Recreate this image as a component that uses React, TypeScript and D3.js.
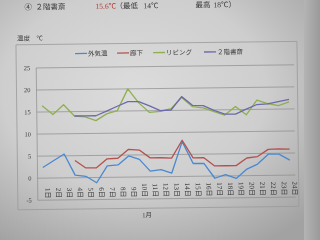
import React from "react";
import * as d3 from "d3";

// January daily temperatures (°C)
const days = [
  "1日", "2日", "3日", "4日", "5日", "6日", "7日", "8日", "9日", "10日", "11日", "12日",
  "13日", "14日", "15日", "16日", "17日", "18日", "19日", "20日", "21日", "22日", "23日", "24日",
];
const outdoor = [2.4, 3.9, 5.4, 0.6, 0.3, -1.2, 2.6, 2.8, 4.8, 4.0, 1.3, 1.6, 0.8, 7.9, 2.9, 2.9, -0.5, 0.3, -0.6, 1.5, 2.6, 4.8, 4.8, 3.4];
const hallway = [null, null, null, 3.9, 2.2, 2.2, 4.2, 4.3, 6.3, 6.1, 4.3, 4.3, 4.2, 8.2, 4.2, 4.2, 2.3, 2.3, 2.3, 4.0, 4.3, 5.9, 6.0, 5.9];
const living = [16.4, 14.4, 16.6, 14.0, 13.8, 12.9, 14.4, 15.1, 20.0, 16.8, 14.6, 14.8, 15.4, 17.9, 15.8, 15.5, 14.6, 13.8, 15.7, 13.8, 17.1, 16.3, 15.8, 16.6];
const study = [null, null, null, 14.0, 14.0, 14.0, 15.0, 16.1, 17.1, 17.1, 16.1, 15.0, 15.1, 18.1, 16.1, 16.0, 14.9, 14.0, 14.0, 15.1, 16.1, 16.2, 16.7, 17.2];
const yTicks = [-5, 0, 5, 10, 15, 20, 25];
const seriesNames = ["外気温", "廊下", "リビング", "２階書斎"];
const seriesColors = ["#4a88d0", "#b3524f", "#8fb050", "#6c6aaa"];

const serif = "'Liberation Serif', 'Noto Sans CJK JP', serif";

export default function App() {
  const x = d3.scalePoint<string>().domain(days).range([37, 294.8]).padding(0.5);
  const y = d3.scaleLinear().domain([-5, 25]).range([198.7, 66.4]);
  const line = d3
    .line<number | null>()
    .defined((d) => d != null)
    .x((_, i) => x(days[i]) as number)
    .y((d) => y(d as number));

  const data = [outdoor, hallway, living, study];
  const legendX = [76, 118, 154, 205];

  return (
    <div style={{ position: "fixed", left: 0, top: 0, width: 320, height: 240 }}>
      <svg width={320} height={240} style={{ display: "block" }}>
        <defs>
          <radialGradient id="paper" cx="42%" cy="38%" r="75%">
            <stop offset="0" stopColor="#dcdcdc" />
            <stop offset="0.55" stopColor="#cecece" />
            <stop offset="1" stopColor="#a2a2a2" />
          </radialGradient>
          <linearGradient id="edge" x1="0" x2="1" y1="0" y2="0">
            <stop offset="0" stopColor="#b4b4b4" />
            <stop offset="1" stopColor="#9a9a9a" />
          </linearGradient>
        </defs>
        <rect width={320} height={240} fill="url(#paper)" />
        <rect x={304} y={0} width={16} height={240} fill="url(#edge)" />

        <g transform="rotate(-0.7 165 130)">
          {/* heading */}
          <g fontFamily={serif} fontSize={7.5} fill="#3a3a3a">
            <text x={26} y={8}>④</text>
            <text x={37} y={8}>２階書斎</text>
            <text x={97} y={8} fill="#b23a36">15.6℃</text>
            <text x={117} y={8}>（最低</text>
            <text x={145} y={8}>14℃</text>
            <text x={197} y={8}>最高</text>
            <text x={215} y={8}>18℃）</text>
          </g>
          <text x={18} y={39} fontFamily={serif} fontSize={6.5} fill="#3a3a3a">温度　℃</text>

          {/* chart frame */}
          <rect x={17} y={43} width={281} height={165} fill="none" stroke="#9a9a9a" strokeWidth={0.8} />

          {/* legend */}
          <g fontFamily={serif} fontSize={6.5} fill="#3a3a3a">
            {seriesNames.map((name, i) => (
              <g key={name}>
                <line x1={legendX[i]} x2={legendX[i] + 12} y1={52.5} y2={52.5} stroke={seriesColors[i]} strokeWidth={1.3} />
                <text x={legendX[i] + 13} y={55}>{name}</text>
              </g>
            ))}
          </g>

          {/* grid and y axis */}
          {yTicks.map((t) => (
            <g key={t}>
              <line x1={37} x2={294.8} y1={y(t)} y2={y(t)} stroke="#8c8c8c" strokeWidth={0.7} />
              <text x={31} y={y(t) + 2.2} textAnchor="end" fontFamily={serif} fontSize={6.5} fill="#3a3a3a">
                {t}
              </text>
            </g>
          ))}
          <line x1={37} x2={37} y1={y(25)} y2={y(-5)} stroke="#8c8c8c" strokeWidth={0.7} />

          {/* category labels */}
          {days.map((d) => (
            <text
              key={d}
              transform={`translate(${(x(d) as number) + 2.4},197) rotate(90)`}
              textAnchor="end"
              fontFamily={serif}
              fontSize={7}
              fill="#333"
            >
              {d}
            </text>
          ))}
          <text x={146} y={217} textAnchor="middle" fontFamily={serif} fontSize={6.5} fill="#3a3a3a">1月</text>

          {/* series */}
          {data.map((s, i) => (
            <path key={seriesNames[i]} d={line(s) || ""} fill="none" stroke={seriesColors[i]} strokeWidth={1.3} strokeLinejoin="round" />
          ))}
        </g>
      </svg>
    </div>
  );
}
